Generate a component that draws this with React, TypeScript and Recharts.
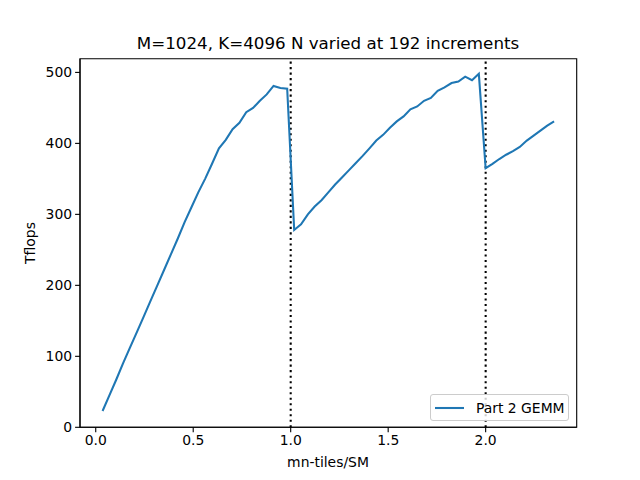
import { Line, LineChart, ReferenceArea, ReferenceLine, XAxis, YAxis } from "recharts";

// mn-tiles per SM for each N step (N grows by 192 each point)
const tilesPerSm = [
  0.035, 0.070, 0.105, 0.140, 0.175, 0.211, 0.246, 0.281, 0.316, 0.351,
  0.386, 0.421, 0.456, 0.491, 0.526, 0.561, 0.596, 0.632, 0.667, 0.702,
  0.737, 0.772, 0.807, 0.842, 0.877, 0.912, 0.947, 0.982, 1.018, 1.053,
  1.088, 1.123, 1.158, 1.193, 1.228, 1.263, 1.298, 1.333, 1.368, 1.404,
  1.439, 1.474, 1.509, 1.544, 1.579, 1.614, 1.649, 1.684, 1.719, 1.754,
  1.789, 1.825, 1.860, 1.895, 1.930, 1.965, 2.000, 2.035, 2.070, 2.105,
  2.140, 2.175, 2.211, 2.246, 2.281, 2.316, 2.351,
];

const tflops = [
  23, 45, 67, 90, 112, 134, 156, 178, 200, 222,
  244, 266, 289, 310, 331, 350, 371, 393, 405, 420,
  429, 444, 450, 460, 469, 481, 478, 477, 278, 286,
  300, 311, 320, 331, 342, 352, 362, 372, 382, 393,
  404, 412, 422, 431, 438, 448, 452, 460, 464, 474,
  479, 485, 487, 494, 489, 498, 365, 371, 378, 384,
  389, 395, 404, 411, 418, 425, 431,
];

const waveMarks = [1, 2];
const xTicks = [0, 0.5, 1, 1.5, 2];
const yTicks = [0, 100, 200, 300, 400, 500];

const xDomain: [number, number] = [-0.0807, 2.467];
const yDomain: [number, number] = [0, 519.3];

const font = "DejaVu Sans, sans-serif";
const blue = "#1f77b4";

const data = tilesPerSm.map((x, i) => ({ x, tflops: tflops[i] }));

function LegendBox() {
  return (
    <div
      style={{
        position: "absolute",
        left: 430,
        top: 394,
        boxSizing: "border-box",
        width: 139,
        height: 27,
        border: "1px solid #cccccc",
        borderRadius: 3,
        background: "rgba(255,255,255,0.8)",
        display: "flex",
        alignItems: "center",
        fontFamily: font,
        fontSize: 13.9,
        color: "#000",
      }}
    >
      <svg width={40} height={10} style={{ marginLeft: 4 }}>
        <line x1={0} y1={5} x2={29} y2={5} stroke={blue} strokeWidth={2.08} />
      </svg>
      <span style={{ marginLeft: 1 }}>Part 2 GEMM</span>
    </div>
  );
}

export default function App() {
  const tick = { fill: "#000", fontSize: 13.9, fontFamily: font };
  return (
    <div style={{ position: "absolute", left: 0, top: 0, width: 640, height: 480, background: "#fff" }}>
      <LineChart
        width={640}
        height={480}
        data={data}
        margin={{ top: 58.7, right: 63.3, bottom: 22.7, left: 30 }}
      >
        <XAxis
          dataKey="x"
          type="number"
          domain={xDomain}
          allowDataOverflow
          ticks={xTicks}
          tickFormatter={(v) => v.toFixed(1)}
          tick={tick}
          tickSize={4.9}
          tickMargin={3}
          height={30}
          axisLine={{ stroke: "#000", strokeWidth: 1.1 }}
          tickLine={{ stroke: "#000", strokeWidth: 1.1 }}
        />
        <YAxis
          type="number"
          domain={yDomain}
          allowDataOverflow
          ticks={yTicks}
          tick={tick}
          tickSize={4.9}
          tickMargin={3}
          width={50}
          axisLine={{ stroke: "#000", strokeWidth: 1.1 }}
          tickLine={{ stroke: "#000", strokeWidth: 1.1 }}
        />
        <ReferenceArea
          x1={xDomain[0]}
          x2={xDomain[1]}
          y1={yDomain[0]}
          y2={yDomain[1]}
          fill="none"
          stroke="#000"
          strokeWidth={1.1}
        />
        {waveMarks.map((w) => (
          <ReferenceLine
            key={w}
            x={w}
            stroke="#000"
            strokeWidth={2.08}
            strokeDasharray="2.08 3.43"
          />
        ))}
        <Line
          dataKey="tflops"
          name="Part 2 GEMM"
          type="linear"
          stroke={blue}
          strokeWidth={2.08}
          dot={false}
          isAnimationActive={false}
        />
        <text x={328} y={49} textAnchor="middle" fontFamily={font} fontSize={16.7} fill="#000">
          M=1024, K=4096 N varied at 192 increments
        </text>
        <text x={328} y={467} textAnchor="middle" fontFamily={font} fontSize={13.9} fill="#000">
          mn-tiles/SM
        </text>
        <text
          x={35}
          y={243}
          textAnchor="middle"
          fontFamily={font}
          fontSize={13.9}
          fill="#000"
          transform="rotate(-90 35 243)"
        >
          Tflops
        </text>
      </LineChart>
      <LegendBox />
    </div>
  );
}
